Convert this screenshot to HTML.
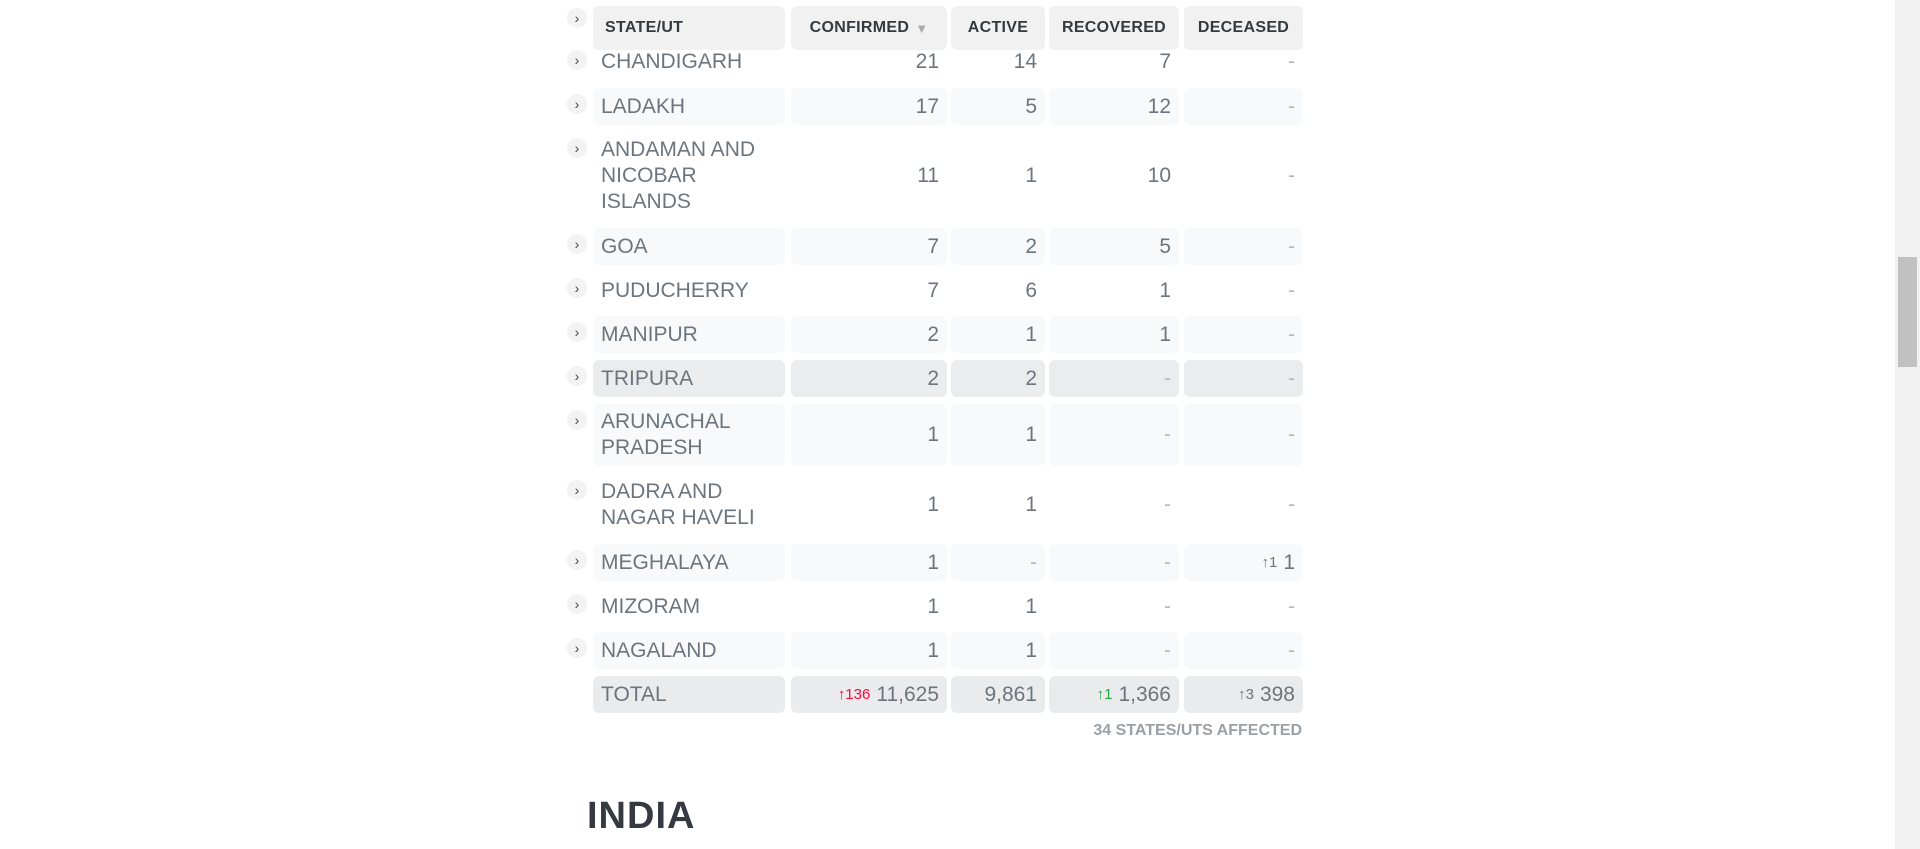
<!DOCTYPE html>
<html><head><meta charset="utf-8">
<style>
html,body{margin:0;padding:0;width:1920px;height:849px;overflow:hidden;background:#fff;font-family:"Liberation Sans",sans-serif;}
.c{position:absolute;box-sizing:border-box;border-radius:6px;color:#6c757d;font-size:21px;display:flex;align-items:center;padding:0 8px;}
.h{background:#f1f1f1;color:#343a40;font-weight:bold;font-size:16px;justify-content:center;letter-spacing:.3px}
.num{justify-content:flex-end;}
.dash{color:#b5b9bd}
.chev{position:absolute;width:20px;height:20px;border-radius:50%;background:#f3f3f3;color:#444;font-size:14px;display:flex;align-items:center;justify-content:center;}
.d{font-size:15px;margin-right:6px}
#scroll{position:absolute;left:1895px;top:0;width:25px;height:849px;background:#f1f1f1}
#thumb{position:absolute;left:1898px;top:257px;width:19px;height:110px;background:#c1c1c1}
</style></head><body>
<div id="root"></div>
<div style="position:absolute;left:1062px;top:722px;font-size:16px;font-weight:bold;color:#9aa0a6;width:240px;text-align:right">34 STATES/UTS AFFECTED</div>
<div style="position:absolute;left:587px;top:795px;font-size:38px;font-weight:bold;color:#343a40;letter-spacing:1px">INDIA</div>
<div id="scroll"></div>
<div id="thumb"></div>
<script>
const cols=[[593,192],[791,156],[951,94],[1049,130],[1184,119]];
const states=["CHANDIGARH","LADAKH","ANDAMAN AND<br>NICOBAR<br>ISLANDS","GOA","PUDUCHERRY","MANIPUR","TRIPURA","ARUNACHAL<br>PRADESH","DADRA AND<br>NAGAR HAVELI","MEGHALAYA","MIZORAM","NAGALAND"];
const confirmed=["21","17","11","7","7","2","2","1","1","1","1","1"];
const active=["14","5","1","2","6","1","2","1","1","-","1","1"];
const recovered=["7","12","10","5","1","1","-","-","-","-","-","-"];
const deceased=["-","-","-","-","-","-","-","-","-","1","-","-"];
const tops=[44,88,132,228,272,316,360,404,474,544,588,632];
const heights=[36,37,88,37,37,37,37,62,62,37,37,37];
const bgs=["","#f8f9fa","","#f8f9fa","","#f8f9fa","#ebecee","#f8f9fa","","#f8f9fa","","#f8f9fa"];
const root=document.getElementById('root');
function cell(x,y,w,h,html,cls,bg){const d=document.createElement('div');d.className='c '+cls;d.style.cssText+=`left:${x}px;top:${y}px;width:${w}px;height:${h}px;`+(bg?`background:${bg};`:'');d.innerHTML=html;root.appendChild(d);return d;}
for(let i=0;i<states.length;i++){
 const y=tops[i],h=heights[i],bg=bgs[i];
 const ch=document.createElement('div');ch.className='chev';ch.style.left='567px';ch.style.top=(y+6)+'px';ch.textContent='›';
 
 
 root.appendChild(ch);
 const s=cell(cols[0][0],y,cols[0][1],h,states[i],'',bg);s.style.lineHeight='26px';
 
 
 const vals=[confirmed[i],active[i],recovered[i],deceased[i]];
 for(let j=0;j<4;j++){let v=vals[j];let html=v==='-'?'<span class="dash">-</span>':v;
  if(i===9&&j===3)html='<span class="d">↑1</span>1';
  const c=cell(cols[j+1][0],y,cols[j+1][1],h,html,'num',bg);
  
  }
}
// header
const hdr=["STATE/UT","CONFIRMED <span style='color:#aaa;font-size:13px;margin-left:6px'>▼</span>","ACTIVE","RECOVERED","DECEASED"];
for(let j=0;j<5;j++){const c=cell(cols[j][0],6,cols[j][1],44,hdr[j],'h','');c.style.background='#f1f1f1';
 if(j===0)c.style.justifyContent='flex-start',c.style.paddingLeft='12px';
 
 }
const hc=document.createElement('div');hc.className='chev';hc.style.left='567px';hc.style.top='8px';hc.textContent='›';


root.appendChild(hc);
// total
const tot=["TOTAL","<span class='d' style='color:#ff073a'>↑136</span>11,625","9,861","<span class='d' style='color:#28a745'>↑1</span>1,366","<span class='d'>↑3</span>398"];
for(let j=0;j<5;j++){const c=cell(cols[j][0],676,cols[j][1],37,tot[j],j?'num':'','#e9ebed');
 
 }
</script>
</body></html>
